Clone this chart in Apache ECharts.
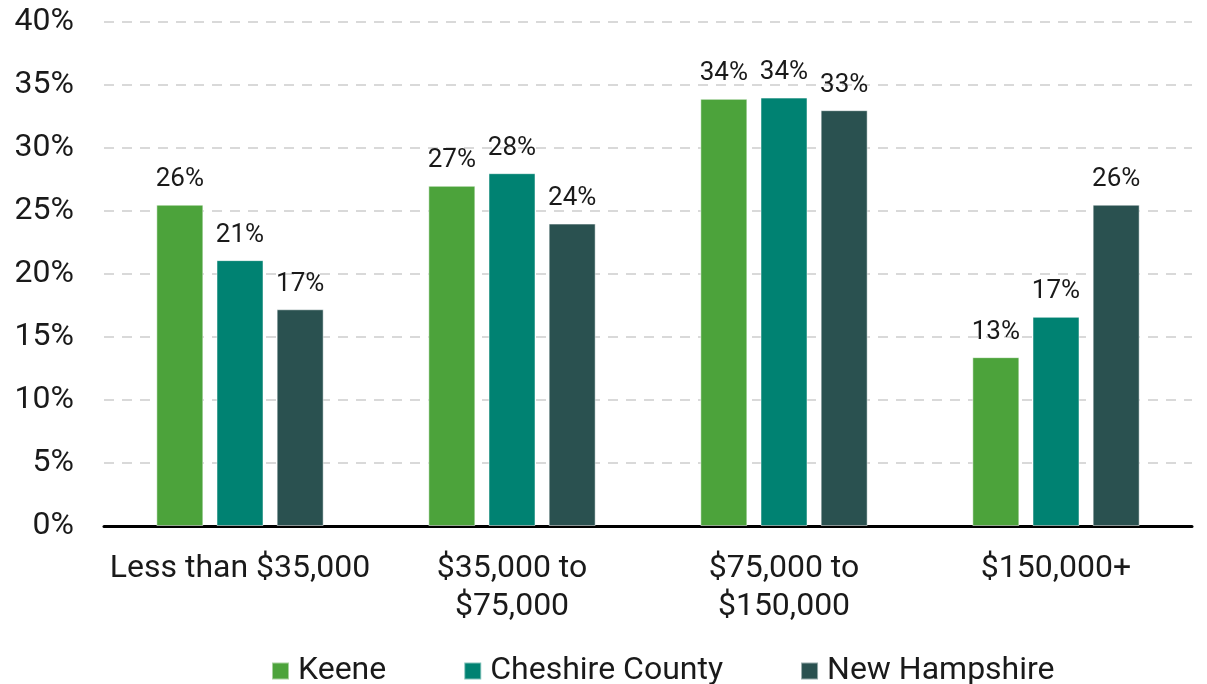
<!DOCTYPE html>
<html>
<head>
<meta charset="utf-8">
<script src="https://cdn.jsdelivr.net/npm/echarts@6/dist/echarts.min.js"></script>
<style>
  html, body { margin: 0; padding: 0; background: #fff; }
  #chart { width: 1207px; height: 684px; }
</style>
</head>
<body>
<div id="chart"></div>
<script>
// household income distribution
var categories = ['Less than $35,000', '$35,000 to\n$75,000', '$75,000 to\n$150,000', '$150,000+'];
var keene = [25.5, 27.0, 33.9, 13.4];
var cheshire = [21.1, 28.0, 34.0, 16.6];
var newHampshire = [17.2, 24.0, 33.0, 25.5];
var seriesNames = ['Keene', 'Cheshire County', 'New Hampshire'];
var colors = ['#4ca33b', '#008272', '#2a5150'];

(function () {
    var chart = echarts.init(document.getElementById('chart'));

    function barSeries(name, data, color) {
        return {
            name: name,
            type: 'bar',
            data: data,
            barWidth: 47,
            barGap: '28%',
            itemStyle: {
                color: color,
                borderColor: 'rgba(255,255,255,0.5)',
                borderWidth: 1
            },
            label: {
                show: true,
                position: 'top',
                distance: 12,
                color: '#1a1a1a',
                fontSize: 26,
                fontFamily: 'Roboto',
                formatter: function (p) {
                    return Math.round(p.value) + '%';
                }
            }
        };
    }

    var option = {
        animation: false,
        textStyle: { fontFamily: 'Roboto' },
        grid: {
            left: 104,
            right: 15,
            top: 22,
            bottom: 158,
            containLabel: false
        },
        legend: {
            top: 650,
            left: 266,
            itemWidth: 17,
            itemHeight: 17,
            itemGap: 77,
            icon: 'rect',
            textStyle: {
                fontSize: 32,
                color: '#1a1a1a',
                fontFamily: 'Roboto',
                padding: [0, 0, 0, 4]
            },
            data: seriesNames
        },
        xAxis: {
            type: 'category',
            data: categories,
            axisLine: { lineStyle: { color: '#000', width: 3 } },
            axisTick: { show: false },
            axisLabel: {
                interval: 0,
                fontSize: 32,
                color: '#1a1a1a',
                margin: 24,
                lineHeight: 38,
                fontFamily: 'Roboto'
            }
        },
        yAxis: {
            type: 'value',
            min: 0,
            max: 40,
            interval: 5,
            axisLine: { show: false },
            axisTick: { show: false },
            axisLabel: {
                fontSize: 32,
                color: '#1a1a1a',
                margin: 30,
                fontFamily: 'Roboto',
                formatter: '{value}%'
            },
            splitLine: {
                lineStyle: { color: '#d9d9d9', width: 2, type: [10, 8] }
            }
        },
        series: [
            barSeries(seriesNames[0], keene, colors[0]),
            barSeries(seriesNames[1], cheshire, colors[1]),
            barSeries(seriesNames[2], newHampshire, colors[2])
        ]
    };

    chart.setOption(option);
})();
</script>
</body>
</html>
